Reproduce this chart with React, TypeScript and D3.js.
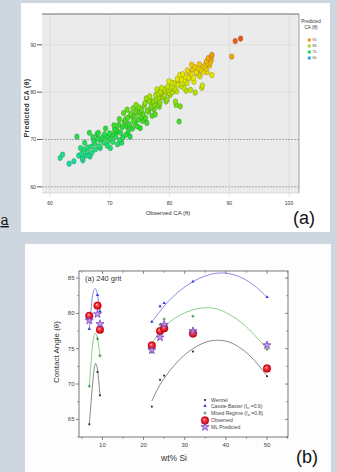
import React from "react";
import * as d3 from "d3";

// ---------- Panel (a) data ----------
const observedCA = [
  61.7, 62.1, 63.2, 64.0, 64.5, 65.1, 65.4, 65.5, 65.3, 65.8, 66.0, 66.2, 66.4, 66.7, 66.6, 66.9, 67.0, 67.3, 67.5, 67.6,
  67.9, 68.1, 68.2, 68.4, 68.4, 68.8, 69.0, 69.1, 69.4, 69.6, 69.8, 70.0, 70.1, 70.4, 70.5, 70.8, 71.0, 71.2, 71.3, 71.5,
  71.7, 71.8, 72.0, 72.1, 72.3, 72.4, 72.6, 72.7, 72.8, 73.0, 73.1, 73.2, 73.4, 73.5, 73.7, 73.8, 73.9, 74.0, 74.2, 74.3,
  74.5, 74.6, 74.8, 74.9, 75.1, 75.2, 75.3, 75.5, 75.6, 75.8, 75.9, 76.0, 76.2, 76.3, 76.5, 76.6, 76.7, 76.9, 77.0, 77.1,
  77.3, 77.4, 77.6, 77.7, 77.8, 78.0, 78.1, 78.2, 78.4, 78.5, 78.7, 78.8, 79.0, 79.1, 79.3, 79.4, 79.6, 79.7, 79.8, 80.0,
  80.1, 80.3, 80.4, 80.5, 80.7, 80.8, 81.0, 81.1, 81.2, 81.3, 81.5, 81.6, 81.8, 81.9, 82.1, 82.2, 82.4, 82.5, 82.6, 82.8,
  82.9, 83.0, 83.2, 83.3, 83.5, 83.6, 83.7, 83.9, 84.0, 84.2, 84.3, 84.5, 84.6, 84.8, 84.9, 85.1, 85.2, 85.4, 85.5, 85.7,
  85.8, 86.0, 86.1, 86.2, 86.4, 86.5, 86.7, 86.8, 87.0, 87.1, 87.1, 87.0, 90.4, 91.0, 91.9,
  68.0, 69.3, 70.2, 71.1, 72.2, 73.3, 74.1, 75.0, 75.7, 76.8, 77.5, 78.3, 79.2, 80.2, 81.4, 82.0, 83.1, 84.1, 85.0, 86.3,
  70.7, 71.6, 72.9, 74.4, 76.1, 77.9, 79.9, 81.7, 67.2, 66.3, 65.6, 64.8,
];
const predictedCA = [
  66.1, 66.8, 64.9, 65.4, 70.6, 68.2, 66.1, 65.6, 67.0, 69.3, 66.6, 67.5, 66.8, 66.4, 71.4, 68.5, 67.2, 69.8, 69.2, 67.9,
  71.2, 71.4, 68.6, 69.9, 68.2, 70.4, 69.3, 71.1, 70.6, 68.7, 69.8, 71.3, 68.2, 71.0, 69.5, 72.1, 70.6, 72.0, 69.0, 73.1,
  69.9, 71.4, 69.3, 72.6, 75.6, 73.7, 74.2, 71.0, 72.8, 74.6, 71.7, 73.3, 70.6, 75.4, 74.9, 72.3, 76.6, 73.9, 73.5, 76.0,
  75.6, 72.8, 74.2, 76.8, 72.4, 74.8, 76.3, 73.9, 75.3, 77.2, 77.7, 74.6, 73.5, 76.1, 75.9, 78.2, 79.1, 76.7, 77.0, 75.0,
  78.1, 76.4, 75.3, 79.4, 78.4, 77.2, 79.7, 78.8, 77.7, 80.1, 80.9, 78.9, 79.1, 80.6, 80.2, 78.0, 78.4, 81.2, 80.5, 79.8,
  79.4, 82.0, 81.2, 80.0, 81.9, 80.7, 78.0, 77.3, 80.2, 82.8, 82.6, 73.8, 77.0, 81.3, 81.9, 83.8, 80.9, 82.5, 83.3, 80.3,
  81.9, 84.6, 84.3, 82.9, 80.5, 83.9, 85.8, 84.9, 83.0, 85.3, 79.9, 84.2, 84.0, 85.1, 83.7, 83.3, 84.8, 80.9, 81.4, 84.3,
  85.4, 85.8, 84.9, 86.5, 86.0, 87.2, 85.6, 86.2, 87.5, 87.9, 83.6, 86.8, 87.5, 90.8, 91.3,
  70.2, 72.3, 70.3, 71.6, 70.4, 72.9, 75.0, 75.9, 74.4, 77.9, 77.5, 76.9, 79.5, 80.8, 81.6, 82.7, 83.1, 82.2, 85.9, 84.2,
  73.0, 74.3, 76.3, 77.3, 78.7, 80.6, 82.3, 83.6, 70.5, 68.3, 67.9, 66.6,
];
const xTicksA = [60, 70, 80, 90, 100];
const yTicksA = [60, 70, 80, 90];
const legendALabels = ["90", "80", "70", "60"];
const legendAColors = ["#f0901a", "#a6d82a", "#2ed35a", "#2ea6e0"];

// ---------- Panel (b) data ----------
const siWt = [6.8, 8.8, 9.4, 22, 24, 25, 32, 50];
const wenzel = [64.3, 71.7, 68.4, 66.8, 70.6, 71.2, 74.6, 71.1];
const cassie = [77.8, 82.6, 80.3, 78.8, 81.0, 81.45, 84.5, 82.3];
const mixed = [69.7, 76.4, 74.0, 74.5, 78.4, 79.2, 79.6, 74.9];
const observed = [79.65, 81.1, 77.7, 75.45, 77.5, 77.9, 77.15, 72.2];
const mlPredicted = [79.0, 79.9, 78.5, 74.8, 76.6, 78.4, 77.5, 75.5];

const fitXLeft = [6.8, 7.2, 7.6, 8.0, 8.3, 8.6, 9.0, 9.4];
const cassieFitLeft = [77.8, 80.4, 82.5, 83.4, 83.5, 83.1, 81.9, 80.3];
const mixedFitLeft = [69.7, 72.8, 75.4, 76.9, 77.2, 76.9, 75.7, 74.0];
const wenzelFitLeft = [64.3, 67.2, 70.0, 72.2, 72.9, 72.6, 71.0, 68.4];
const fitXRight = [22, 24, 26, 29, 32, 35, 38, 41, 44, 47, 50];
const cassieFitRight = [78.8, 80.3, 81.7, 83.3, 84.5, 85.3, 85.7, 85.6, 85.0, 83.9, 82.3];
const mixedFitRight = [75.8, 77.3, 78.6, 79.8, 80.5, 80.8, 80.6, 79.8, 78.6, 76.9, 75.0];
const wenzelFitRight = [67.6, 69.9, 71.6, 73.6, 75.0, 75.9, 76.2, 75.9, 74.9, 73.3, 71.1];

const xTicksB = [10, 20, 30, 40, 50];
const xMinorB = [5, 15, 25, 35, 45, 55];
const yTicksB = [65, 70, 75, 80, 85];
const yMinorB = [62.5, 67.5, 72.5, 77.5, 82.5];
const legendB = ["Wenzel", "Cassie-Baxter (f", "Mixed Regime (f", "Observed", "ML Predicted"];

export default function App() {
  const W = 337, H = 472;
  // Panel (a)
  const xA = d3.scaleLinear().domain([58.66, 101.67]).range([42, 299]);
  const yA = d3.scaleLinear().domain([58.7, 96.5]).range([193, 14]);
  const colorA = d3
    .scaleLinear<string>()
    .domain([64, 68, 72, 76, 80, 83, 86, 88.5, 91.5])
    .range(["#12dcb0", "#1ee07a", "#22e030", "#5ee016", "#b4e400", "#e8ea00", "#f4c400", "#f39010", "#f05018"])
    .clamp(true);
  const ptsA = observedCA.map((o, i) => ({ o, p: predictedCA[i] })).sort((a, b) => a.p - b.p);

  // Panel (b)
  const xB = d3.scaleLinear().domain([4.3, 55.1]).range([79, 288]);
  const yB = d3.scaleLinear().domain([62.5, 86]).range([437, 271]);
  const line = d3
    .line<[number, number]>()
    .x((d) => xB(d[0]))
    .y((d) => yB(d[1]))
    .curve(d3.curveCatmullRom.alpha(0.5));
  const mk = (xs: number[], ys: number[]) => line(xs.map((x, i) => [x, ys[i]] as [number, number])) || "";
  const star = d3.symbol().type(d3.symbolStar).size(20)() || "";
  const tri = d3.symbol().type(d3.symbolTriangle).size(5)() || "";

  const fontA = "'Liberation Sans Narrow', 'Liberation Sans', Arial, sans-serif";
  const fontB = "'Liberation Sans', Arial, sans-serif";

  const RedBall = ({ x, y }: { x: number; y: number }) => (
    <circle cx={x} cy={y} r={3.9} fill="url(#redBall)" stroke="#b00010" strokeWidth={0.3} />
  );
  const Star = ({ x, y }: { x: number; y: number }) => (
    <path d={star} transform={`translate(${x},${y})`} fill="#b58ae0" fillOpacity={0.8} stroke="#7a3cc0" strokeWidth={0.8} />
  );
  const Tri = ({ x, y }: { x: number; y: number }) => (
    <path d={tri} transform={`translate(${x},${y})`} fill="#2f3fd0" />
  );
  const Plus = ({ x, y }: { x: number; y: number }) => (
    <g stroke="#1f7f2a" strokeWidth={0.8}>
      <line x1={x - 1.5} x2={x + 1.5} y1={y} y2={y} />
      <line x1={x} x2={x} y1={y - 1.5} y2={y + 1.5} />
    </g>
  );
  const Dot = ({ x, y }: { x: number; y: number }) => <rect x={x - 0.9} y={y - 0.9} width={1.8} height={1.8} fill="#222" />;

  return (
    <svg width={W} height={H} style={{ position: "absolute", left: 0, top: 0 }}>
      <defs>
        <radialGradient id="redBall" cx="50%" cy="50%" r="50%" fx="38%" fy="35%">
          <stop offset="0%" stopColor="#ffd0d0" />
          <stop offset="30%" stopColor="#ff4a4a" />
          <stop offset="75%" stopColor="#e0101a" />
          <stop offset="100%" stopColor="#b00010" />
        </radialGradient>
      </defs>
      <rect x={0} y={0} width={W} height={H} fill="#ced6df" />

      {/* ---------------- Panel (a) ---------------- */}
      <rect x={21} y={3} width={309} height={229} fill="#ffffff" />
      <rect x={42} y={14} width={257} height={179} fill="#ebebeb" />
      {yTicksA.map((t) => (
        <line
          key={"gy" + t}
          x1={42}
          x2={299}
          y1={yA(t)}
          y2={yA(t)}
          stroke={t <= 70 ? "#8a8a8a" : "#dadada"}
          strokeWidth={0.7}
          strokeDasharray={t <= 70 ? "2,1" : "none"}
        />
      ))}
      {xTicksA.map((t) => (
        <line key={"gx" + t} x1={xA(t)} x2={xA(t)} y1={14} y2={198} stroke="#c2c2c2" strokeWidth={0.7} strokeDasharray="1,1" />
      ))}
      <line x1={42} x2={299} y1={14} y2={14} stroke="#6f6f6f" strokeWidth={1.1} />
      <line x1={299} x2={299} y1={14} y2={193} stroke="#8a8a8a" strokeWidth={0.8} />
      <line x1={42} x2={299} y1={193} y2={193} stroke="#c8c8c8" strokeWidth={0.6} />
      {yTicksA.map((t) => (
        <g key={"ty" + t}>
          <line x1={37} x2={42} y1={yA(t)} y2={yA(t)} stroke="#333" strokeWidth={0.8} />
          <text x={36} y={yA(t) + 1.8} fontSize={5} textAnchor="end" fill="#333" fontFamily={fontA}>
            {t}
          </text>
        </g>
      ))}
      {xTicksA.map((t) => (
        <text key={"tx" + t} x={xA(t)} y={205} fontSize={5} textAnchor="middle" fill="#333" fontFamily={fontA}>
          {t}
        </text>
      ))}
      {ptsA.map((d, i) => (
        <ellipse
          key={"p" + i}
          cx={xA(d.o)}
          cy={yA(d.p)}
          rx={2.3}
          ry={2.8}
          fill={colorA(d.p)}
          stroke="#3a3a3a"
          strokeOpacity={0.6}
          strokeWidth={0.4}
        />
      ))}
      <text
        transform="translate(28.5,108) rotate(-90)"
        fontSize={7}
        fontWeight="bold"
        textAnchor="middle"
        fill="#333"
        fontFamily={fontB}
        letterSpacing={0.3}
      >
        Predicted CA (θ)
      </text>
      <text x={168} y={215} fontSize={6} textAnchor="middle" fill="#333" fontFamily={fontA}>
        Observed CA (θ)
      </text>
      <text x={311} y={23} fontSize={4.6} textAnchor="middle" fill="#333" fontFamily={fontA}>
        Predicted
      </text>
      <text x={311} y={29} fontSize={4.6} textAnchor="middle" fill="#333" fontFamily={fontA}>
        CA (θ)
      </text>
      {legendALabels.map((l, i) => (
        <g key={"la" + l}>
          <rect x={307.8} y={38.5 + i * 6} width={3} height={3} fill={legendAColors[i]} />
          <text x={312.5} y={41.2 + i * 6} fontSize={3.6} fill="#444" fontFamily={fontA}>
            {l}
          </text>
        </g>
      ))}
      <text x={293} y={224} fontSize={18} fill="#111" fontFamily={fontB}>
        (a)
      </text>
      <text x={0.5} y={225} fontSize={14} fill="#111" fontFamily="'DejaVu Serif', serif" textDecoration="underline">
        a
      </text>

      {/* ---------------- Panel (b) ---------------- */}
      <rect x={25} y={244} width={306} height={228} fill="#fdfdfd" />
      <rect x={79} y={271} width={209} height={166} fill="#ffffff" stroke="#555" strokeWidth={0.8} />
      {xTicksB.map((t) => (
        <g key={"bx" + t}>
          <line x1={xB(t)} x2={xB(t)} y1={437} y2={440} stroke="#555" strokeWidth={0.7} />
          <line x1={xB(t)} x2={xB(t)} y1={271} y2={274} stroke="#555" strokeWidth={0.7} />
          <text x={xB(t)} y={446.5} fontSize={6} textAnchor="middle" fill="#444" fontFamily={fontB}>
            {t}
          </text>
        </g>
      ))}
      {xMinorB.map((t) => (
        <g key={"bxm" + t}>
          <line x1={xB(t)} x2={xB(t)} y1={437} y2={438.8} stroke="#555" strokeWidth={0.6} />
          <line x1={xB(t)} x2={xB(t)} y1={271} y2={272.8} stroke="#555" strokeWidth={0.6} />
        </g>
      ))}
      {yTicksB.map((t) => (
        <g key={"by" + t}>
          <line x1={76} x2={79} y1={yB(t)} y2={yB(t)} stroke="#555" strokeWidth={0.7} />
          <line x1={285} x2={288} y1={yB(t)} y2={yB(t)} stroke="#555" strokeWidth={0.7} />
          <text x={74.5} y={yB(t) + 2} fontSize={6} textAnchor="end" fill="#444" fontFamily={fontB}>
            {t}
          </text>
        </g>
      ))}
      {yMinorB.map((t) => (
        <g key={"bym" + t}>
          <line x1={77.2} x2={79} y1={yB(t)} y2={yB(t)} stroke="#555" strokeWidth={0.6} />
          <line x1={286.2} x2={288} y1={yB(t)} y2={yB(t)} stroke="#555" strokeWidth={0.6} />
        </g>
      ))}
      <text x={85} y={281} fontSize={7.5} fill="#333" fontFamily={fontB}>
        (a) 240 grit
      </text>
      <text transform="translate(59,352) rotate(-90)" fontSize={8} textAnchor="middle" fill="#333" fontFamily={fontB}>
        Contact Angle (θ)
      </text>
      <text x={174} y={461} fontSize={8.5} textAnchor="middle" fill="#333" fontFamily={fontB}>
        wt% Si
      </text>

      {/* fitted curves */}
      <path d={mk(fitXLeft, cassieFitLeft)} fill="none" stroke="#5a5ad8" strokeWidth={0.7} />
      <path d={mk(fitXLeft, mixedFitLeft)} fill="none" stroke="#5cb85c" strokeWidth={0.7} />
      <path d={mk(fitXLeft, wenzelFitLeft)} fill="none" stroke="#555" strokeWidth={0.7} />
      <path d={mk(fitXRight, cassieFitRight)} fill="none" stroke="#5a5ad8" strokeWidth={0.7} />
      <path d={mk(fitXRight, mixedFitRight)} fill="none" stroke="#5cb85c" strokeWidth={0.7} />
      <path d={mk(fitXRight, wenzelFitRight)} fill="none" stroke="#555" strokeWidth={0.7} />

      {siWt.map((x, i) => (
        <g key={"m" + i}>
          <Dot x={xB(x)} y={yB(wenzel[i])} />
          <Plus x={xB(x)} y={yB(mixed[i])} />
          <RedBall x={xB(x)} y={yB(observed[i])} />
          <Star x={xB(x)} y={yB(mlPredicted[i])} />
          <Tri x={xB(x)} y={yB(cassie[i])} />
        </g>
      ))}

      {/* legend (b) */}
      <g fontFamily={fontB} fontSize={5} fill="#444">
        <Dot x={205} y={400} />
        <text x={211} y={401.8}>{legendB[0]}</text>
        <Tri x={205} y={406} />
        <text x={211} y={407.8}>
          {legendB[1]}
          <tspan fontSize={3.5} dy={1}>w</tspan>
          <tspan dy={-1}> =0.9)</tspan>
        </text>
        <Plus x={205} y={413} />
        <text x={211} y={414.8}>
          {legendB[2]}
          <tspan fontSize={3.5} dy={1}>w</tspan>
          <tspan dy={-1}> =0.8)</tspan>
        </text>
        <RedBall x={205} y={420.5} />
        <text x={211} y={422.3}>{legendB[3]}</text>
        <Star x={205} y={427} />
        <text x={211} y={428.8}>{legendB[4]}</text>
      </g>
      <text x={296} y={463} fontSize={18} fill="#111" fontFamily={fontB}>
        (b)
      </text>
    </svg>
  );
}
